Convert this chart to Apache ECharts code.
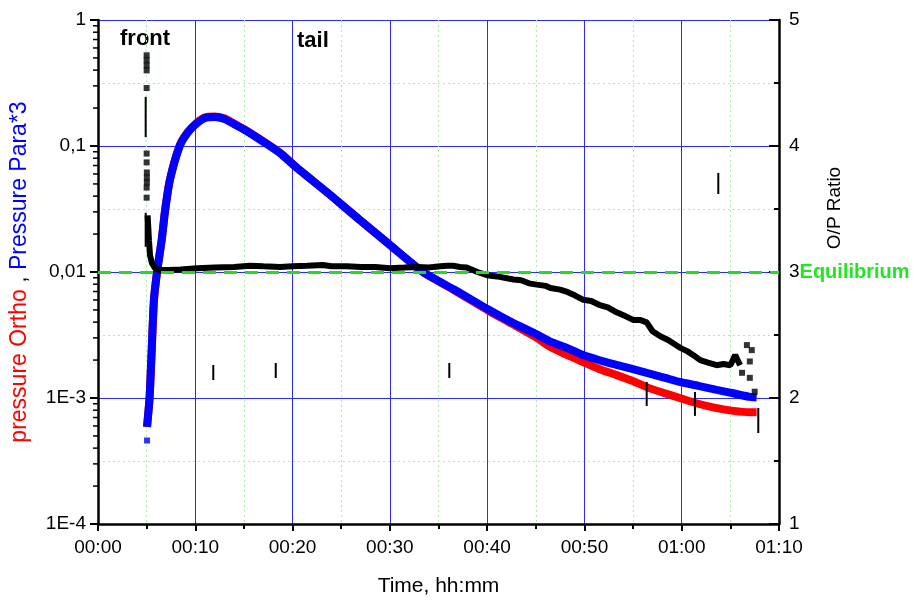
<!DOCTYPE html>
<html>
<head>
<meta charset="utf-8">
<title>O/P ratio</title>
<script src="https://cdn.jsdelivr.net/npm/echarts@6/dist/echarts.min.js"></script>
<style>
html,body{margin:0;padding:0;background:#fff;}
#container{width:917px;height:601px;}
</style>
</head>
<body>
<div id="container"></div>
<script>
// time axis (minutes) and its labels
var timeTicks = [0, 10, 20, 30, 40, 50, 60, 70];
var timeLabels = ['00:00', '00:10', '00:20', '00:30', '00:40', '00:50', '01:00', '01:10'];
// left log axis
var pTickValues = [1e-4, 1e-3, 1e-2, 1e-1, 1];
var pTickLabels = ['1E-4', '1E-3', '0,01', '0,1', '1'];

// pressure curves
var pressureTime = [5.04, 5.3, 5.5, 5.75, 6.1, 6.55, 6.9, 7.4, 8.4, 9.2, 10.1, 11.0, 12.0, 13.0, 13.8, 15.1, 17.0, 18.7, 20.45, 23.85, 26.9, 30.0, 33.4, 36.7, 40.0, 42.5, 45.1, 46.5, 48.2, 49.85, 51.5, 53.3, 54.9, 56.4, 58.1, 59.8, 61.7, 63.6, 65.3, 67.0, 67.7];
var paraValue = [5.9e-4, 1.0e-3, 2.2e-3, 6.0e-3, 0.0104, 0.018, 0.031, 0.054, 0.100, 0.127, 0.150, 0.167, 0.170, 0.164, 0.152, 0.134, 0.108, 0.088, 0.067, 0.041, 0.0259, 0.0164, 0.0100, 0.0072, 0.0051, 0.0040, 0.0032, 0.0028, 0.0025, 0.00219, 0.0020, 0.00183, 0.0017, 0.00158, 0.00146, 0.00134, 0.00125, 0.00116, 0.00109, 0.00102, 0.00101];
var orthoValue = [5.9e-4, 1.0e-3, 2.2e-3, 6.0e-3, 0.0104, 0.018, 0.031, 0.0545, 0.101, 0.128, 0.1515, 0.169, 0.1717, 0.1656, 0.1535, 0.135, 0.109, 0.0885, 0.0672, 0.041, 0.0259, 0.0164, 0.0100, 0.0071, 0.0050, 0.0039, 0.0030, 0.00254, 0.0022, 0.00193, 0.0017, 0.00152, 0.00137, 0.00122, 0.0011, 0.00100, 0.0009, 0.00083, 0.00079, 0.00077, 0.00077];
var paraStartTime = [5.04];
var paraStartValue = [4.6e-4];

// O/P ratio (right axis)
var ratioTime = [5.10, 5.24, 5.35, 5.55, 5.86, 6.4, 7.4, 8.5, 10.2, 12, 14, 15.6, 17, 18.7, 20, 21.5, 23.1, 24, 25.6, 27, 28.5, 30, 31.5, 32.8, 34, 35.2, 35.9, 36.5, 37.2, 37.9, 39, 40, 41, 42.7, 43.5, 44.3, 45.1, 46, 46.5, 47.5, 48.3, 49, 49.85, 50.7, 51.5, 52.4, 53.3, 54.2, 55, 55.7, 56.4, 57, 57.8, 58.6, 59.2, 59.8, 60.6, 61.2, 61.9, 62.7, 63.6, 64.3, 65, 65.5, 66];
var ratioValue = [3.45, 3.25, 3.13, 3.07, 3.03, 3.015, 3.015, 3.02, 3.03, 3.035, 3.04, 3.05, 3.045, 3.04, 3.045, 3.05, 3.056, 3.045, 3.045, 3.04, 3.04, 3.03, 3.035, 3.04, 3.035, 3.045, 3.05, 3.05, 3.04, 3.035, 3.0, 2.975, 2.965, 2.94, 2.935, 2.91, 2.9, 2.89, 2.873, 2.86, 2.84, 2.815, 2.78, 2.77, 2.74, 2.72, 2.68, 2.65, 2.62, 2.62, 2.60, 2.53, 2.49, 2.46, 2.43, 2.40, 2.37, 2.34, 2.30, 2.28, 2.26, 2.27, 2.26, 2.34, 2.26];
var frontTime = [5.0, 5.0, 5.0, 5.0, 5.0, 5.0, 5.0, 5.02, 5.02, 5.02, 5.0, 5.0];
var frontRatio = [4.72, 4.68, 4.64, 4.60, 4.46, 3.94, 3.87, 3.79, 3.75, 3.71, 3.67, 3.59];
var endTime = [66.2, 66.7, 67.2, 67.0, 67.0, 67.5];
var endRatio = [2.20, 2.42, 2.38, 2.29, 2.16, 2.05];
var equilibriumRatio = 3;

// stray vertical marks (ratio axis)
var markTime = [4.9, 4.9, 11.85, 18.27, 36.11, 56.4, 61.36, 63.76, 67.87];
var markLow = [4.07, 3.20, 2.143, 2.159, 2.159, 1.937, 1.858, 3.619, 1.722];
var markHigh = [4.39, 3.47, 2.262, 2.278, 2.278, 2.127, 2.048, 3.786, 1.921];

function zip(a, b) {
  var out = [];
  for (var i = 0; i < a.length; i++) out.push([a[i], b[i]]);
  return out;
}
var markData = [];
for (var i = 0; i < markTime.length; i++) markData.push([markTime[i], markLow[i], markHigh[i]]);

// minor ticks of the log axis: 2..9 in every decade
var logMinorTicks = [];
for (var d = 0; d < pTickValues.length - 1; d++) {
  for (var m = 2; m <= 9; m++) logMinorTicks.push([0, m * pTickValues[d]]);
}

var FONT = 'Liberation Sans';
var myChart = echarts.init(document.getElementById('container'));

var option = {
  backgroundColor: '#fff',
  animation: false,
  textStyle: {fontFamily: FONT},
  grid: {left: 98, right: 138, top: 20, bottom: 77, containLabel: false, outerBoundsMode: 'none'},
  xAxis: {
    type: 'value', min: 0, max: 70, interval: 10,
    name: 'Time, hh:mm', nameLocation: 'middle', nameGap: 52,
    nameTextStyle: {fontSize: 21, color: '#000', fontFamily: FONT},
    axisLine: {lineStyle: {color: '#000', width: 2.5}},
    axisTick: {length: 7, lineStyle: {color: '#000', width: 2}},
    minorTick: {show: true, splitNumber: 2, length: 5, lineStyle: {color: '#000', width: 2}},
    axisLabel: {
      fontSize: 19, color: '#000', margin: 14,
      formatter: function (v) { return timeLabels[timeTicks.indexOf(v)]; }
    },
    splitLine: {show: true, lineStyle: {color: '#2a2aff', width: 1}},
    minorSplitLine: {show: true, lineStyle: {color: '#a8f0a8', width: 1, type: [2, 3]}}
  },
  yAxis: [
    {
      type: 'log', logBase: 10, min: 1e-4, max: 1,
      name: '{r|pressure Ortho} , {b|Pressure Para*3}',
      nameLocation: 'middle', nameGap: 67,
      nameTextStyle: {
        fontSize: 23, color: '#000', fontFamily: FONT,
        rich: {
          r: {color: '#ff0000', fontSize: 23, fontFamily: FONT},
          b: {color: '#0000ff', fontSize: 23, fontFamily: FONT}
        }
      },
      axisLine: {show: true, lineStyle: {color: '#000', width: 2.5}},
      axisTick: {length: 8, lineStyle: {color: '#000', width: 2}},
      axisLabel: {
        fontSize: 19, color: '#000', margin: 12,
        formatter: function (v) {
          for (var i = 0; i < pTickValues.length; i++) {
            if (Math.abs(Math.log10(v) - Math.log10(pTickValues[i])) < 1e-6) return pTickLabels[i];
          }
          return '';
        }
      },
      splitLine: {show: false}
    },
    {
      type: 'value', min: 1, max: 5, interval: 1, position: 'right',
      axisLine: {show: true, lineStyle: {color: '#000', width: 2.5}},
      axisTick: {inside: true, length: 10, lineStyle: {color: '#000', width: 2}},
      minorTick: {show: true, splitNumber: 2, length: 5, lineStyle: {color: '#000', width: 2}},
      axisLabel: {
        fontSize: 19, color: '#000', margin: 10,
        formatter: function (v) { return v === equilibriumRatio ? v + '{eq|Equilibrium}' : String(v); },
        rich: {eq: {color: '#22e622', fontWeight: 'bold', fontSize: 20, fontFamily: FONT}}
      },
      splitLine: {show: true, lineStyle: {color: '#2a2aff', width: 1}},
      minorSplitLine: {show: true, lineStyle: {color: '#a8f0a8', width: 1, type: [2, 3]}}
    }
  ],
  graphic: [
    {type: 'text', left: 120, top: 28, style: {text: 'front', font: 'bold 22px ' + FONT, fill: '#000'}},
    {type: 'text', left: 297, top: 30, style: {text: 'tail', font: 'bold 22px ' + FONT, fill: '#000'}},
    {type: 'text', x: 835, y: 208, rotation: Math.PI / 2,
     style: {text: 'O/P Ratio', font: '19px ' + FONT, fill: '#000', align: 'center', verticalAlign: 'middle'}}
  ],
  series: [
    {
      name: 'log minor ticks', type: 'custom', yAxisIndex: 0, silent: true, z: 6,
      data: logMinorTicks, encode: {x: 0, y: 1},
      renderItem: function (params, api) {
        var p = api.coord([api.value(0), api.value(1)]);
        return {type: 'line', shape: {x1: p[0] - 5, y1: p[1], x2: p[0], y2: p[1]},
                style: {stroke: '#000', lineWidth: 1.5}};
      }
    },
    {
      name: 'pressure Ortho', type: 'line', yAxisIndex: 0, z: 3,
      data: zip(pressureTime, orthoValue), showSymbol: false, smooth: 0.2,
      lineStyle: {color: '#ff0000', width: 8}
    },
    {
      name: 'Pressure Para*3', type: 'line', yAxisIndex: 0, z: 4,
      data: zip(pressureTime, paraValue), showSymbol: false, smooth: 0.2,
      lineStyle: {color: '#0000ff', width: 8}
    },
    {
      name: 'para start', type: 'scatter', yAxisIndex: 0, z: 4,
      data: zip(paraStartTime, paraStartValue), symbol: 'rect', symbolSize: 6,
      itemStyle: {color: '#0000ff'}
    },
    {
      name: 'O/P Ratio', type: 'line', yAxisIndex: 1, z: 5,
      data: zip(ratioTime, ratioValue), showSymbol: false,
      lineStyle: {color: '#000', width: 6},
      markLine: {
        silent: true, symbol: 'none', z: 10,
        label: {show: false},
        lineStyle: {color: '#22dd22', width: 3, type: [13, 8]},
        data: [{yAxis: equilibriumRatio}]
      }
    },
    {
      name: 'ratio points', type: 'scatter', yAxisIndex: 1, z: 5,
      data: zip(frontTime, frontRatio).concat(zip(endTime, endRatio)),
      symbol: 'rect', symbolSize: 6, itemStyle: {color: '#000'}
    },
    {
      name: 'marks', type: 'custom', yAxisIndex: 1, z: 5,
      data: markData, encode: {x: 0, y: [1, 2]},
      renderItem: function (params, api) {
        var a = api.coord([api.value(0), api.value(1)]);
        var b = api.coord([api.value(0), api.value(2)]);
        return {type: 'line', shape: {x1: a[0], y1: a[1], x2: b[0], y2: b[1]},
                style: {stroke: '#000', lineWidth: 2}};
      }
    }
  ]
};
myChart.setOption(option);
</script>
</body>
</html>
